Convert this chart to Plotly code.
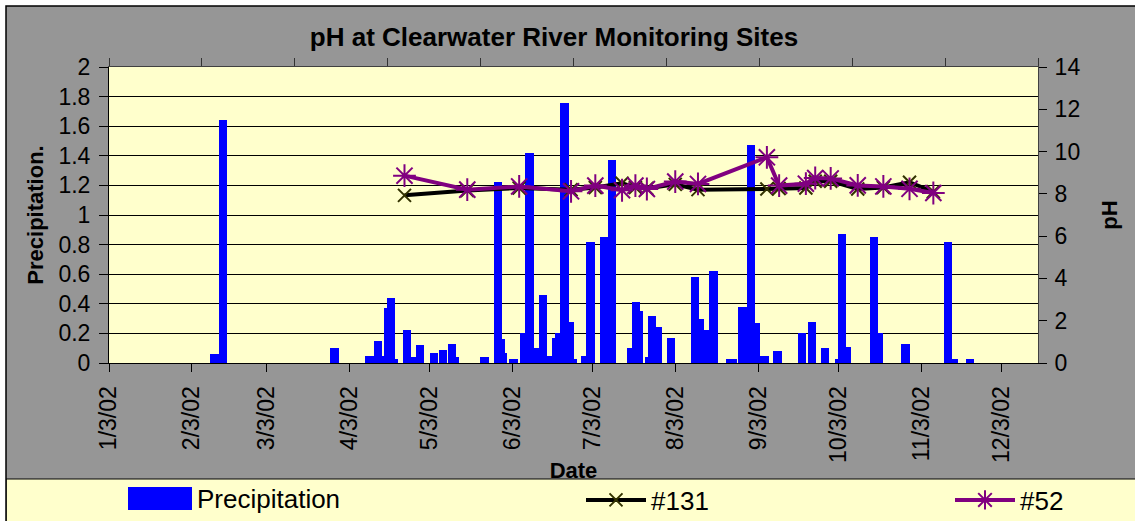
import numpy as np
import pandas as pd
import plotly.graph_objects as go

# ---------------- data ----------------
precip_dates = [
    "2002-02-11 12:00", "2002-02-14 14:00", "2002-03-28 10:00", "2002-04-10 12:00",
    "2002-04-13 14:00", "2002-04-15 14:00", "2002-04-17 07:00", "2002-04-18 14:00",
    "2002-04-19 12:00", "2002-04-24 12:00", "2002-04-27 00:00", "2002-04-29 12:00",
    "2002-05-04 17:00", "2002-05-08 02:00", "2002-05-11 10:00", "2002-05-12 10:00",
    "2002-05-23 12:00", "2002-05-28 14:00", "2002-05-29 12:00", "2002-05-30 10:00",
    "2002-06-03 10:00", "2002-06-07 12:00", "2002-06-09 10:00", "2002-06-11 10:00",
    "2002-06-12 07:00", "2002-06-14 10:00", "2002-06-17 14:00", "2002-06-19 10:00",
    "2002-06-20 14:00", "2002-06-22 12:00", "2002-06-24 14:00", "2002-06-25 14:00",
    "2002-06-30 07:00", "2002-07-02 05:00", "2002-07-07 07:00", "2002-07-10 07:00",
    "2002-07-17 10:00", "2002-07-19 05:00", "2002-07-20 10:00", "2002-07-24 05:00",
    "2002-07-25 07:00", "2002-07-27 07:00", "2002-08-01 05:00", "2002-08-10 07:00",
    "2002-08-12 05:00", "2002-08-14 05:00", "2002-08-17 05:00", "2002-08-23 10:00",
    "2002-08-24 10:00", "2002-08-28 02:00", "2002-08-31 07:00", "2002-09-02 05:00",
    "2002-09-05 07:00", "2002-09-10 05:00", "2002-09-19 07:00", "2002-09-23 02:00",
    "2002-09-28 02:00", "2002-10-03 07:00", "2002-10-04 07:00", "2002-10-06 07:00",
    "2002-10-16 05:00", "2002-10-18 05:00", "2002-10-28 02:00", "2002-11-13 02:00",
    "2002-11-15 02:00", "2002-11-21 02:00",
]
precip_values = [
    0.06, 1.64, 0.10, 0.05,
    0.15, 0.05, 0.37, 0.44,
    0.03, 0.22, 0.04, 0.12,
    0.07, 0.09, 0.13, 0.04,
    0.04, 1.22, 0.16, 0.07,
    0.03, 0.20, 1.42, 0.08,
    0.10, 0.46, 0.05, 0.17,
    0.20, 1.76, 0.28, 0.03,
    0.05, 0.82, 0.85, 1.37,
    0.10, 0.41, 0.35, 0.04,
    0.32, 0.24, 0.17, 0.58,
    0.30, 0.22, 0.62, 0.03,
    0.03, 0.38, 1.47, 0.27,
    0.05, 0.08, 0.20, 0.28,
    0.10, 0.03, 0.87, 0.11,
    0.85, 0.20, 0.13, 0.82,
    0.03, 0.03,
]

ph_dates = [
    "2002-04-23 14:00", "2002-05-17 02:00", "2002-06-05 12:00", "2002-06-24 22:00",
    "2002-07-04", "2002-07-14", "2002-07-19", "2002-07-23 07:00",
    "2002-08-02 22:00", "2002-08-11 10:00", "2002-09-06 05:00", "2002-09-10 19:00",
    "2002-09-20 19:00", "2002-09-24 07:00", "2002-09-30 02:00", "2002-10-10 05:00",
    "2002-10-19 19:00", "2002-10-29 14:00", "2002-11-07 12:00",
]
ph_131 = [7.93, 8.16, 8.28, 8.20, 8.30, 8.50, 8.30, 8.25, 8.45, 8.20,
          8.23, 8.25, 8.28, 8.60, 8.60, 8.23, 8.30, 8.55, 8.10]
ph_52 = [8.86, 8.20, 8.35, 8.12, 8.39, 8.17, 8.39, 8.23, 8.58, 8.47,
         9.73, 8.39, 8.48, 8.75, 8.73, 8.40, 8.35, 8.24, 8.04]

precip_ticks = ["0", "0.2", "0.4", "0.6", "0.8", "1", "1.2", "1.4", "1.6", "1.8", "2"]
ph_ticks = ["0", "2", "4", "6", "8", "10", "12", "14"]

# ---------------- layout helpers ----------------
FONT = "Liberation Sans, Arial, sans-serif"
GRAY = "#969696"
YELLOW = "#FFFFCC"
W, H = 1135, 521
L, R, T, B = 109, 97, 67, 158
PW, PH = W - L - R, H - T - B


def px(x):
    return (x - L) / PW


def py(y):
    return (H - B - y) / PH


x_start = pd.Timestamp("2002-01-03")
x_end = pd.Timestamp("2002-12-16 16:00")
span_ms = (x_end - x_start).total_seconds() * 1000
DAY_MS = 86400000

fig = go.Figure()

order = np.argsort(precip_values, kind="stable")
fig.add_trace(go.Bar(
    x=[precip_dates[i] for i in order],
    y=[precip_values[i] for i in order],
    width=3.1 * DAY_MS,
    marker=dict(color="#0000FF", line=dict(width=0)),
    name="Precipitation", showlegend=False,
    xaxis="x", yaxis="y",
))

fig.add_trace(go.Scatter(
    x=ph_dates, y=ph_131, mode="lines+markers", name="#131",
    line=dict(color="black", width=4),
    marker=dict(symbol="x-thin-open", size=13, color="#333300",
                line=dict(width=2, color="#333300")),
    xaxis="x2", yaxis="y2", legend="legend2",
))
fig.add_trace(go.Scatter(
    x=ph_dates, y=ph_52, mode="lines+markers", name="#52",
    line=dict(color="#800080", width=4),
    marker=dict(symbol="asterisk-open", size=19, color="#800080",
                line=dict(width=2, color="#800080")),
    xaxis="x2", yaxis="y2", legend="legend3",
))

shapes = [
    # legend band
    dict(type="rect", xref="paper", yref="paper", x0=px(6), x1=px(1140),
         y0=py(530), y1=py(479), fillcolor=YELLOW, line=dict(color="black", width=1),
         layer="below"),
    # white strips outside the chart frame
    dict(type="rect", xref="paper", yref="paper", x0=px(-5), x1=px(1140),
         y0=py(6), y1=py(-5), fillcolor="white", line=dict(width=0), layer="above"),
    dict(type="rect", xref="paper", yref="paper", x0=px(-5), x1=px(6),
         y0=py(530), y1=py(-5), fillcolor="white", line=dict(width=0), layer="above"),
    # frame
    dict(type="rect", xref="paper", yref="paper", x0=px(6), x1=px(1140),
         y0=py(530), y1=py(6), fillcolor="rgba(0,0,0,0)",
         line=dict(color="black", width=1.5), layer="above"),
    # precipitation legend swatch
    dict(type="rect", xref="paper", yref="paper", x0=px(128), x1=px(192),
         y0=py(510), y1=py(487), fillcolor="#0000FF", line=dict(width=0),
         layer="above"),
]

annotations = [
    dict(text="Precipitation", xref="paper", yref="paper", x=px(195), y=py(499),
         xanchor="left", yanchor="middle", showarrow=False,
         font=dict(size=26, family=FONT, color="black")),
]

tick_font = dict(size=23, family=FONT, color="black")

fig.update_layout(
    width=W, height=H,
    margin=dict(l=L, r=R, t=T, b=B, autoexpand=False),
    paper_bgcolor=GRAY, plot_bgcolor=YELLOW,
    barmode="overlay", bargap=0,
    font=dict(family=FONT, color="black", size=22),
    title=dict(text="<b>pH at Clearwater River Monitoring Sites</b>",
               x=554 / W, xref="container", xanchor="center",
               y=1 - 37 / H, yref="container", yanchor="middle",
               font=dict(size=26, family=FONT, color="black")),
    xaxis=dict(type="date", range=[x_start, x_end],
               tick0="2002-01-03", dtick="M1", tickformat="%-m/%-d/%y",
               tickangle=-90, tickfont=tick_font, ticklabelstandoff=5,
               ticks="outside", ticklen=8, tickcolor="black",
               showline=True, linecolor="black", linewidth=1,
               showgrid=False, zeroline=False,
               title=dict(text="<b>Date</b>", standoff=0,
                          font=dict(size=22, family=FONT, color="black"))),
    xaxis2=dict(type="date", overlaying="x", side="top", anchor="y2",
                range=[x_start, x_end], tick0=x_start, dtick=span_ms / 10,
                showticklabels=False, ticks="outside", ticklen=8,
                tickcolor="#333333", showline=True, linecolor="#404040",
                linewidth=1, showgrid=False, zeroline=False),
    yaxis=dict(range=[0, 2], tickvals=[float(t) for t in precip_ticks],
               ticktext=precip_ticks, tickfont=tick_font, ticklabelstandoff=4,
               ticks="outside", ticklen=9, tickcolor="black",
               showline=True, linecolor="black", linewidth=1,
               showgrid=True, gridcolor="black", gridwidth=1, zeroline=False,
               title=dict(text="<b>Precipitation.</b>", standoff=8,
                          font=dict(size=22, family=FONT, color="black"))),
    yaxis2=dict(range=[0, 14], overlaying="y", side="right", anchor="x2",
                tickvals=[float(t) for t in ph_ticks], ticktext=ph_ticks,
                tickfont=tick_font, ticklabelstandoff=3, ticks="outside", ticklen=8,
                tickcolor="black", showline=True, linecolor="#404040",
                linewidth=1, showgrid=False, zeroline=False,
                title=dict(text="<b>pH</b>", standoff=22,
                           font=dict(size=22, family=FONT, color="black"))),
    legend2=dict(x=px(581), xanchor="left", y=py(500), yanchor="middle",
                 orientation="h", bgcolor="rgba(0,0,0,0)", itemwidth=60,
                 font=dict(size=26, family=FONT, color="black")),
    legend3=dict(x=px(950), xanchor="left", y=py(500), yanchor="middle",
                 orientation="h", bgcolor="rgba(0,0,0,0)", itemwidth=60,
                 font=dict(size=26, family=FONT, color="black")),
    shapes=shapes,
    annotations=annotations,
)

fig.write_html("out.html", config={"displayModeBar": False},
               post_script="document.body.style.margin='0px';")
